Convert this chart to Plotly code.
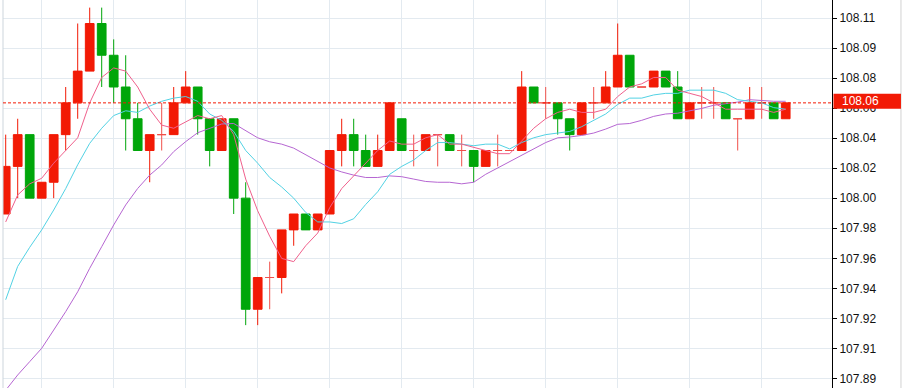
import numpy as np
import plotly.graph_objects as go

# ---- data ----
open_ = [107.99, 108.02, 108.04, 108.00, 108.01, 108.04, 108.06, 108.08, 108.11, 108.09,
         108.07, 108.05, 108.03, 108.04, 108.04, 108.06, 108.07, 108.05, 108.03, 108.05,
         108.00, 107.93, 107.95, 107.95, 107.98, 107.99, 107.98, 107.99, 108.03, 108.04,
         108.03, 108.02, 108.03, 108.05, 108.03, 108.03, 108.04, 108.04, 108.03, 108.03,
         108.02, 108.03, 108.03, 108.03, 108.07, 108.06, 108.06, 108.05, 108.04, 108.06,
         108.06, 108.07, 108.09, 108.07, 108.07, 108.08, 108.07, 108.05, 108.06, 108.06,
         108.06, 108.05, 108.05, 108.06, 108.06, 108.05]
high = [108.04, 108.05, 108.04, 108.01, 108.04, 108.07, 108.11, 108.12, 108.12, 108.10,
        108.09, 108.06, 108.04, 108.06, 108.07, 108.08, 108.07, 108.05, 108.05, 108.05,
        108.01, 107.95, 107.96, 107.98, 107.99, 107.99, 107.99, 108.03, 108.05, 108.05,
        108.04, 108.04, 108.06, 108.05, 108.04, 108.04, 108.04, 108.04, 108.04, 108.03,
        108.03, 108.04, 108.03, 108.08, 108.07, 108.07, 108.06, 108.05, 108.06, 108.07,
        108.08, 108.11, 108.09, 108.07, 108.08, 108.08, 108.08, 108.06, 108.07, 108.07,
        108.06, 108.05, 108.07, 108.07, 108.06, 108.06]
low = [107.99, 108.00, 108.00, 108.00, 108.00, 108.03, 108.05, 108.08, 108.07, 108.06,
       108.03, 108.03, 108.01, 108.03, 108.04, 108.06, 108.04, 108.02, 108.03, 107.99,
       107.92, 107.92, 107.93, 107.94, 107.97, 107.98, 107.98, 107.99, 108.02, 108.02,
       108.02, 108.02, 108.03, 108.03, 108.02, 108.03, 108.02, 108.03, 108.02, 108.01,
       108.02, 108.02, 108.03, 108.03, 108.06, 108.05, 108.04, 108.03, 108.04, 108.05,
       108.06, 108.07, 108.07, 108.07, 108.07, 108.07, 108.05, 108.05, 108.05, 108.05,
       108.05, 108.03, 108.05, 108.05, 108.05, 108.05]
close = [108.02, 108.04, 108.00, 108.01, 108.04, 108.06, 108.08, 108.11, 108.09, 108.07,
         108.05, 108.03, 108.04, 108.04, 108.06, 108.07, 108.05, 108.03, 108.05, 108.00,
         107.93, 107.95, 107.95, 107.98, 107.99, 107.98, 107.99, 108.03, 108.04, 108.03,
         108.02, 108.03, 108.06, 108.03, 108.03, 108.04, 108.04, 108.03, 108.03, 108.02,
         108.03, 108.03, 108.03, 108.07, 108.06, 108.06, 108.05, 108.04, 108.06, 108.06,
         108.07, 108.09, 108.07, 108.07, 108.08, 108.07, 108.05, 108.06, 108.06, 108.06,
         108.05, 108.05, 108.06, 108.06, 108.05, 108.06]
ma5 = [107.985, 108.002, 108.009, 108.0125, 108.022, 108.03, 108.038, 108.06, 108.076, 108.082,
       108.08, 108.07, 108.056, 108.046, 108.044, 108.048, 108.052, 108.05, 108.052, 108.04,
       108.012, 107.992, 107.976, 107.962, 107.96, 107.97, 107.978, 107.994, 108.006, 108.014,
       108.022, 108.03, 108.036, 108.034, 108.034, 108.038, 108.04, 108.034, 108.034, 108.032,
       108.03, 108.028, 108.028, 108.036, 108.044, 108.05, 108.054, 108.056, 108.054, 108.054,
       108.056, 108.064, 108.07, 108.072, 108.076, 108.076, 108.068, 108.066, 108.064, 108.06,
       108.056, 108.056, 108.056, 108.056, 108.054, 108.056]
ma10 = [107.936, 107.957, 107.969, 107.980, 107.9925, 108.006, 108.021, 108.0345, 108.044, 108.052,
        108.055, 108.054, 108.058, 108.061, 108.063, 108.064, 108.061, 108.053, 108.049, 108.042,
        108.03, 108.022, 108.013, 108.007, 108.00, 107.991, 107.985, 107.985, 107.984, 107.987,
        107.996, 108.004, 108.015, 108.02, 108.024, 108.03, 108.035, 108.035, 108.034, 108.033,
        108.034, 108.034, 108.031, 108.035, 108.038, 108.04, 108.041, 108.042, 108.045, 108.049,
        108.053, 108.059, 108.063, 108.063, 108.065, 108.066, 108.066, 108.068, 108.068, 108.068,
        108.066, 108.062, 108.061, 108.06, 108.057, 108.056]
ma20 = [107.879, 107.8886, 107.897, 107.9054, 107.9169, 107.9285, 107.941, 107.9558, 107.9694, 107.9831,
        107.9957, 108.0061, 108.0145, 108.0209, 108.0293, 108.0356, 108.0412, 108.044, 108.0467, 108.047,
        108.0425, 108.038, 108.0355, 108.034, 108.0315, 108.0275, 108.023, 108.019, 108.0165, 108.0145,
        108.013, 108.013, 108.014, 108.0135, 108.012, 108.0105, 108.01, 108.01, 108.009, 108.01,
        108.015, 108.019, 108.023, 108.0275, 108.031, 108.035, 108.038, 108.0385, 108.0395, 108.041,
        108.0435, 108.0465, 108.047, 108.049, 108.0515, 108.053, 108.0535, 108.055, 108.0565, 108.0585,
        108.0595, 108.0605, 108.062, 108.0615, 108.061, 108.061]

RED = "#F21A05"
GREEN = "#00A60A"

x = np.arange(len(close))
o = np.array(open_); h = np.array(high); l = np.array(low); c = np.array(close)
doji = np.isclose(o, c)
body = ~doji

fig = go.Figure()
fig.add_trace(go.Candlestick(
    x=x[body], open=o[body], high=h[body], low=l[body], close=c[body],
    increasing=dict(line=dict(color=RED, width=1), fillcolor=RED),
    decreasing=dict(line=dict(color=GREEN, width=1), fillcolor=GREEN),
    whiskerwidth=0, hoverinfo="skip", showlegend=False))
fig.add_trace(go.Candlestick(
    x=x[doji], open=o[doji], high=h[doji], low=l[doji], close=c[doji],
    increasing=dict(line=dict(color="#F0504A", width=1), fillcolor="#F0504A"),
    decreasing=dict(line=dict(color="#F0504A", width=1), fillcolor="#F0504A"),
    whiskerwidth=0, hoverinfo="skip", showlegend=False))

for ys, col in [(ma20, "#B666D2"), (ma10, "#52D2E4"), (ma5, "#F0608C")]:
    fig.add_trace(go.Scatter(x=x, y=ys, mode="lines", line=dict(color=col, width=1),
                             hoverinfo="skip", showlegend=False))

last = close[-1]
shapes = [
    dict(type="line", xref="paper", yref="paper", x0=0, x1=0, y0=0, y1=1,
         line=dict(color="#CDD5DC", width=1)),
    dict(type="line", xref="paper", yref="paper", x0=1.0832, x1=1.0832, y0=0, y1=1,
         line=dict(color="#D2D2D2", width=1)),
    dict(type="line", xref="paper", yref="y", x0=0, x1=1, y0=last, y1=last,
         line=dict(color=RED, width=1, dash="3px,2px"), layer="above"),
    dict(type="rect", xref="paper", yref="y", x0=1.0018, x1=1.0832,
         y0=last - 0.0037, y1=last + 0.0058, fillcolor=RED, line=dict(width=0), layer="above"),
]

fig.update_layout(
    width=905, height=388,
    margin=dict(l=3, r=73, t=0, b=0, pad=0),
    paper_bgcolor="white", plot_bgcolor="white",
    boxgap=0.275, boxgroupgap=0,
    shapes=shapes,
    annotations=[dict(text=f"{last:.2f}", xref="paper", yref="y", x=1.0097, y=last,
                      xanchor="left", yanchor="middle", yshift=1.5, showarrow=False,
                      font=dict(color="white", size=12, family="Liberation Sans, Arial"))],
    xaxis=dict(range=[-0.225, 68.858], rangeslider=dict(visible=False),
               tick0=3, dtick=6, showticklabels=False, ticks="",
               showgrid=True, gridcolor="#E3EAF0", gridwidth=1, zeroline=False,
               showline=False, fixedrange=True),
    yaxis=dict(range=[107.8804, 108.1248], side="right", tick0=107.8865, dtick=0.0189,
               tickformat=".2f", showgrid=True, gridcolor="#E3EAF0", gridwidth=1,
               zeroline=False, showline=True, linecolor="#000", linewidth=1,
               ticks="outside", ticklen=4, tickcolor="#000",
               tickfont=dict(color="#111", size=12, family="Liberation Sans, Arial"),
               fixedrange=True),
    font=dict(family="Liberation Sans, Arial"),
)

fig.write_html("out.html", config={"displayModeBar": False},
               post_script="document.body.style.margin='0';document.body.style.overflow='hidden';")
